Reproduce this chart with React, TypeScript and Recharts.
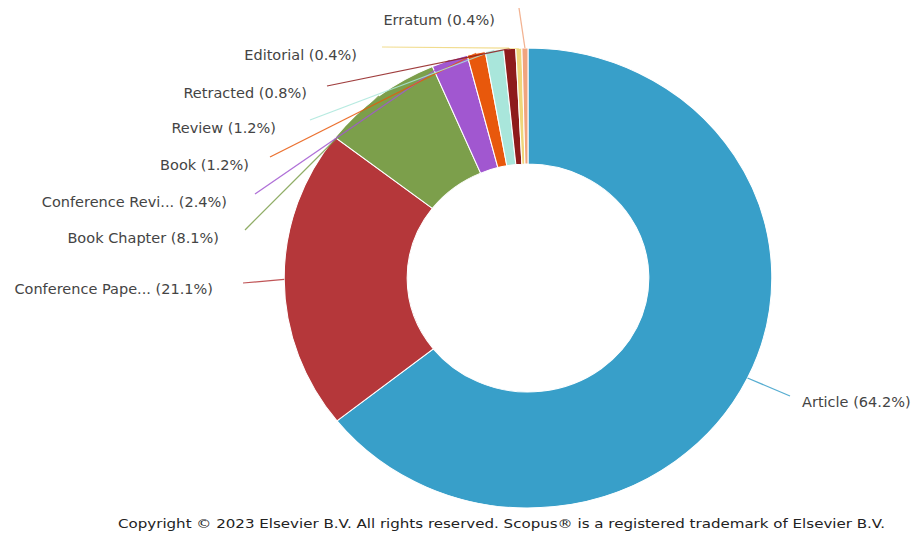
import { PieChart, Pie, Cell } from "recharts";

const categories = [
  "Article",
  "Conference Pape...",
  "Book Chapter",
  "Conference Revi...",
  "Book",
  "Review",
  "Retracted",
  "Editorial",
  "Erratum",
];
const shares = [64.2, 21.1, 8.1, 2.4, 1.2, 1.2, 0.8, 0.4, 0.4];
const colors = [
  "#389fc9",
  "#b5373a",
  "#7c9f4b",
  "#a157d0",
  "#e8580c",
  "#a9e6db",
  "#8e1b1b",
  "#efd67a",
  "#f0a47e",
];

// label text end (x, baseline) and leader line start, in page pixels
const labelSpots = [
  { tx: 802, ty: 407, anchor: "start", lx: 790, ly: 396 },
  { tx: 213, ty: 294, anchor: "end", lx: 243, ly: 283 },
  { tx: 219, ty: 243, anchor: "end", lx: 245, ly: 230 },
  { tx: 227, ty: 207, anchor: "end", lx: 255, ly: 194 },
  { tx: 249, ty: 170, anchor: "end", lx: 270, ly: 157 },
  { tx: 276, ty: 133, anchor: "end", lx: 310, ly: 120 },
  { tx: 307, ty: 98, anchor: "end", lx: 327, ly: 86 },
  { tx: 357, ty: 60, anchor: "end", lx: 382, ly: 47 },
  { tx: 495, ty: 25, anchor: "end", lx: 519, ly: 8 },
];

const data = categories.map((name, i) => ({ name, value: shares[i] }));

const RADIAN = Math.PI / 180;
const CX = 528;
const STRETCH = 1.06; // the source image is a bit wider than tall
const unstretch = (x: number) => CX + (x - CX) / STRETCH;

const renderLabel = (props: any) => {
  const { cx, cy, midAngle, outerRadius, index } = props;
  const spot = labelSpots[index];
  const ex = cx + outerRadius * Math.cos(-midAngle * RADIAN);
  const ey = cy + outerRadius * Math.sin(-midAngle * RADIAN);
  return (
    <g key={`lbl-${index}`}>
      <line
        x1={unstretch(spot.lx)}
        y1={spot.ly}
        x2={ex}
        y2={ey}
        stroke={colors[index]}
        strokeWidth={1.2}
        strokeOpacity={0.85}
      />
      <text
        x={unstretch(spot.tx)}
        y={spot.ty}
        textAnchor={spot.anchor}
        fill="#444"
        fontSize={13.7}
        fontFamily="DejaVu Sans, sans-serif"
      >
        {`${categories[index]} (${shares[index]}%)`}
      </text>
    </g>
  );
};

export default function App() {
  return (
    <div style={{ position: "relative", width: 914, height: 533, background: "#fff", overflow: "hidden" }}>
      <style>{"html, body { margin: 0; padding: 0; overflow: hidden; }"}</style>
      <div style={{ transform: `scaleX(${STRETCH})`, transformOrigin: `${CX}px 0px` }}>
        <PieChart width={914} height={533} margin={{ top: 0, right: 0, bottom: 0, left: 0 }}>
          <Pie
            data={data}
            dataKey="value"
            cx={CX}
            cy={278}
            innerRadius={114}
            outerRadius={230}
            startAngle={90}
            endAngle={-270}
            stroke="#fff"
            strokeWidth={1}
            label={renderLabel}
            labelLine={false}
            isAnimationActive={false}
          >
            {data.map((entry, index) => (
              <Cell key={`cell-${index}`} fill={colors[index]} />
            ))}
          </Pie>
        </PieChart>
      </div>
      <svg
        width={914}
        height={33}
        style={{ position: "absolute", left: 0, top: 500 }}
      >
        <text
          x={118}
          y={28}
          textLength={767}
          lengthAdjust="spacingAndGlyphs"
          fill="#222"
          fontSize={12}
          fontFamily="DejaVu Sans, sans-serif"
        >
          Copyright © 2023 Elsevier B.V. All rights reserved. Scopus® is a registered trademark of Elsevier B.V.
        </text>
      </svg>
    </div>
  );
}
